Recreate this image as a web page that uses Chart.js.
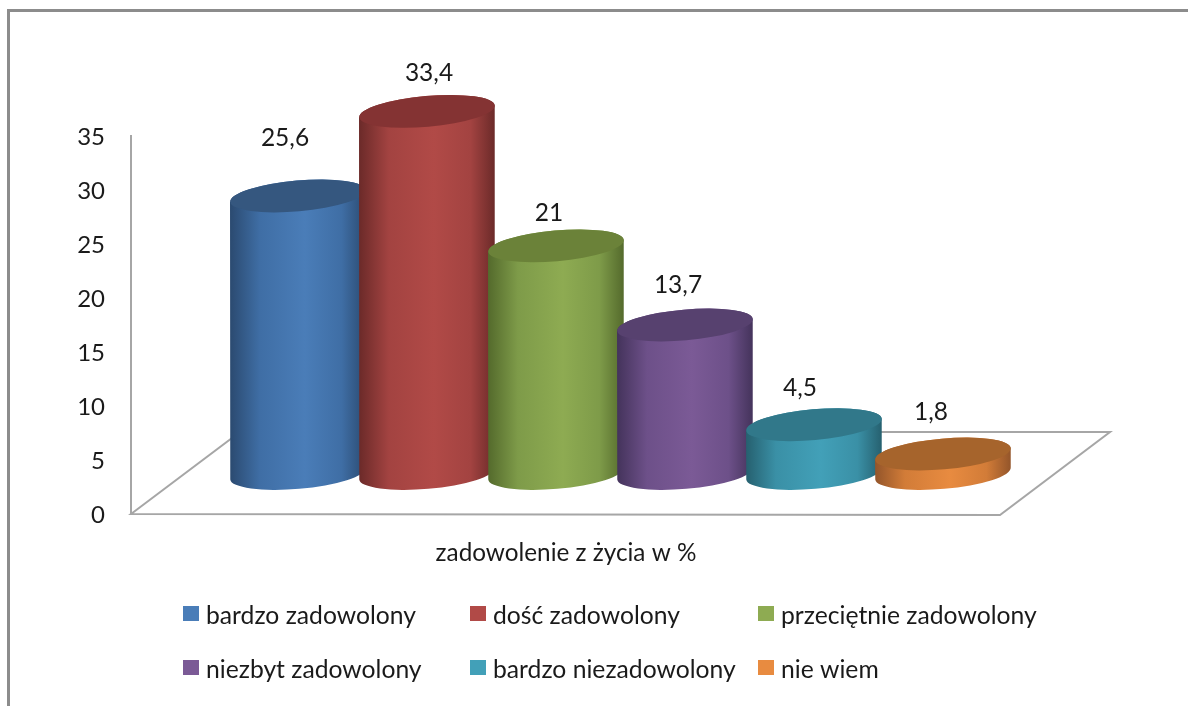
<!DOCTYPE html>
<html lang="pl">
<head>
<meta charset="utf-8">
<title>zadowolenie z życia w %</title>
<script src="https://cdn.jsdelivr.net/npm/chart.js@4"></script>
<style>
html,body{margin:0;padding:0;background:#fff;}
canvas{display:block;}
</style>
</head>
<body>
<canvas id="c" width="1188" height="706"></canvas>
<script>
const categories = ['zadowolenie z życia w %'];
const seriesNames = ['bardzo zadowolony','dość zadowolony','przeciętnie zadowolony','niezbyt zadowolony','bardzo niezadowolony','nie wiem'];
const seriesValues = [25.6, 33.4, 21, 13.7, 4.5, 1.8];
const axisTicks = [0,5,10,15,20,25,30,35];

const sideColors = ['#4a7db8','#b14a47','#8eab52','#7b5a96','#42a0b8','#e88b40'];
const softColors = ['#3f6ea5','#a34341','#7e9b49','#6d5089','#3a90a6','#d27c38'];
const capColors  = ['#35577f','#843333','#6b8239','#57416f','#31788a','#a6642c'];
const edgeColors = ['#2b4a70','#6b2a29','#546a2c','#44335b','#26606f','#93552a'];
const legendCols = [183, 470, 758];
const legendRows = [606, 660];
const labelShift = [[-13,-58],[2,-38],[-7,-33],[-7,-40],[-14,-37],[-12,-41.5]];

const FONT = 'Lato, "Open Sans", sans-serif';
const TXT = '#1a1a1a';
const TILT = -5 * Math.PI / 180;
const CAP_B = 15.4;

function cylinder(ctx, el, i) {
  const cx = el.x, a = el.width / 2, top = el.y, base = el.base;
  const dy = a * Math.sin(-TILT);
  const g = ctx.createLinearGradient(cx - a, 0, cx + a, 0);
  g.addColorStop(0, edgeColors[i]);
  g.addColorStop(0.22, softColors[i]);
  g.addColorStop(0.55, sideColors[i]);
  g.addColorStop(0.82, softColors[i]);
  g.addColorStop(1, edgeColors[i]);
  ctx.save();
  ctx.beginPath();
  ctx.ellipse(cx, base, a, CAP_B, TILT, 0, Math.PI, false);
  ctx.lineTo(cx - a, top + dy);
  ctx.ellipse(cx, top, a, CAP_B, TILT, Math.PI, 0, false);
  ctx.closePath();
  ctx.fillStyle = g;
  ctx.fill();
  ctx.beginPath();
  ctx.ellipse(cx, top, a, CAP_B, TILT, 0, Math.PI * 2);
  ctx.fillStyle = capColors[i];
  ctx.fill();
  ctx.restore();
}

const cylinderPlugin = {
  id: 'cylinders',
  beforeDraw(chart) {
    const c = chart.ctx;
    c.save();
    c.fillStyle = '#fff';
    c.fillRect(0, 0, chart.width, chart.height);
    c.fillStyle = '#8c8c8c';
    c.fillRect(7, 9, chart.width - 7, 3);
    c.fillRect(7, 9, 3, chart.height - 9);
    c.restore();
  },
  beforeDatasetsDraw(chart) {
    const c = chart.ctx, a = chart.chartArea;
    c.save();
    c.strokeStyle = '#a6a6a6';
    c.lineWidth = 2;
    c.beginPath();
    c.moveTo(a.left, a.bottom);
    c.lineTo(a.left + 109, a.bottom - 82);
    c.lineTo(a.right, a.bottom - 82);
    c.lineTo(a.right - 110, a.bottom + 1);
    c.closePath();
    c.stroke();
    c.restore();
    chart.data.datasets.forEach((ds, i) => {
      cylinder(c, chart.getDatasetMeta(i).data[0], i);
    });
  },
  beforeDatasetDraw() {
    return false;
  },
  afterDatasetsDraw(chart) {
    const c = chart.ctx;
    c.save();
    c.fillStyle = TXT;
    c.font = '24.5px ' + FONT;
    c.textAlign = 'center';
    c.textBaseline = 'middle';
    chart.data.datasets.forEach((ds, i) => {
      const el = chart.getDatasetMeta(i).data[0];
      const t = String(ds.data[0]).replace('.', ',');
      c.fillText(t, el.x + labelShift[i][0], el.y + labelShift[i][1]);
    });
    c.font = '24.7px ' + FONT;
    c.textAlign = 'left';
    chart.data.datasets.forEach((ds, i) => {
      const x = legendCols[i % 3], y = legendRows[Math.floor(i / 3)];
      c.fillStyle = ds.backgroundColor;
      c.fillRect(x, y, 16, 15);
      c.fillStyle = TXT;
      c.fillText(ds.label, x + 23, y + 10);
    });
    c.restore();
  }
};

new Chart(document.getElementById('c'), {
  type: 'bar',
  data: {
    labels: categories,
    datasets: seriesNames.map((name, i) => ({
      label: name,
      data: [seriesValues[i]],
      backgroundColor: sideColors[i],
      yAxisID: 'depth'
    }))
  },
  options: {
    responsive: false,
    animation: false,
    categoryPercentage: 0.7906,
    barPercentage: 1.054,
    layout: { padding: { left: 0, right: 78, top: 136, bottom: 0 } },
    plugins: { legend: { display: false }, tooltip: { enabled: false }, title: { display: false } },
    scales: {
      x: {
        grid: { display: false, drawTicks: false },
        border: { display: false },
        afterFit(s) { s.height = 192; },
        ticks: { color: TXT, font: { family: FONT, size: 24.3 }, padding: 25, labelOffset: -54.5, maxRotation: 0 }
      },
      y: {
        position: 'left',
        min: 0, max: 35,
        afterFit(s) { s.width = 131; },
        afterBuildTicks(s) { s.ticks = axisTicks.map(v => ({ value: v })); },
        grid: { display: false, drawTicks: false },
        border: { display: true, color: '#a6a6a6', width: 2 },
        ticks: { color: TXT, font: { family: FONT, size: 24 }, padding: 26, labelOffset: 1.5 }
      },
      depth: {
        display: false,
        min: -3.736, max: 31.13
      }
    }
  },
  plugins: [cylinderPlugin]
});
</script>
</body>
</html>
